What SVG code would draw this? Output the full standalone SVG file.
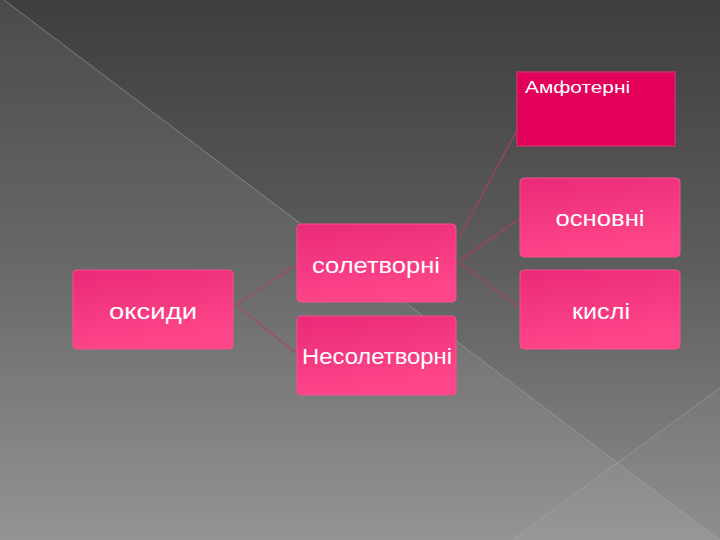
<svg xmlns="http://www.w3.org/2000/svg" width="720" height="540" viewBox="0 0 720 540">
<defs>
<linearGradient id="bg" x1="0" y1="0" x2="0" y2="1">
<stop offset="0" stop-color="#3e3e3e"/>
<stop offset="0.5" stop-color="#5e5e5e"/>
<stop offset="1" stop-color="#8c8c8c"/>
</linearGradient>
<linearGradient id="pk" x1="0" y1="0" x2="0.3" y2="1">
<stop offset="0" stop-color="#ea2a78"/>
<stop offset="1" stop-color="#ff468a"/>
</linearGradient>
</defs>
<style>
.box{fill:url(#pk);stroke:#f2528e;stroke-width:1}
.amf{fill:#e3005a;stroke:#c8306a;stroke-width:1.5}
.t{font-family:"Liberation Sans","DejaVu Sans",sans-serif;fill:#ffffff;font-size:22px;text-anchor:middle}
.ta{font-family:"Liberation Sans","DejaVu Sans",sans-serif;fill:#ffffff;font-size:16px}
.con line{stroke:#b04066;stroke-width:1.3;stroke-opacity:0.8}
.deco{stroke:#a8a8a8;stroke-width:1;stroke-opacity:0.55;fill:none}
</style>
<rect width="720" height="540" fill="url(#bg)"/>
<polygon points="0,0 4,0 720,540 0,540" fill="#ffffff" fill-opacity="0.07"/>
<polygon points="720,388 512,540 720,540" fill="#ffffff" fill-opacity="0.03"/>
<line class="deco" x1="4" y1="0" x2="720" y2="540"/>
<line class="deco" x1="512" y1="540" x2="720" y2="388"/>
<g id="connectors" class="con">
<line x1="236" y1="305" x2="296" y2="265"/>
<line x1="236" y1="305" x2="296" y2="353"/>
<line x1="459" y1="238" x2="518" y2="128"/>
<line x1="458" y1="262" x2="520" y2="218"/>
<line x1="458" y1="262" x2="517" y2="306"/>
</g>
<g id="node-oksydy">
<rect class="box" x="73" y="270" width="160" height="79" rx="4"/>
<text class="t" x="153" y="319" textLength="88" lengthAdjust="spacingAndGlyphs">оксиди</text>
</g>
<g id="node-soletvorni">
<rect class="box" x="297" y="224" width="159" height="78" rx="4"/>
<text class="t" x="376" y="273" textLength="128" lengthAdjust="spacingAndGlyphs">солетворні</text>
</g>
<g id="node-nesoletvorni">
<rect class="box" x="297" y="316" width="159" height="79" rx="4"/>
<text class="t" x="377" y="364" textLength="150" lengthAdjust="spacingAndGlyphs">Несолетворні</text>
</g>
<g id="node-amfoterni">
<rect class="amf" x="517" y="72" width="158" height="74"/>
<text class="ta" x="525" y="93" textLength="105" lengthAdjust="spacingAndGlyphs">Амфотерні</text>
</g>
<g id="node-osnovni">
<rect class="box" x="520" y="178" width="160" height="79" rx="4"/>
<text class="t" x="600" y="226" textLength="89" lengthAdjust="spacingAndGlyphs">основні</text>
</g>
<g id="node-kysli">
<rect class="box" x="520" y="270" width="160" height="79" rx="4"/>
<text class="t" x="601" y="319" textLength="58" lengthAdjust="spacingAndGlyphs">кислі</text>
</g>
</svg>
